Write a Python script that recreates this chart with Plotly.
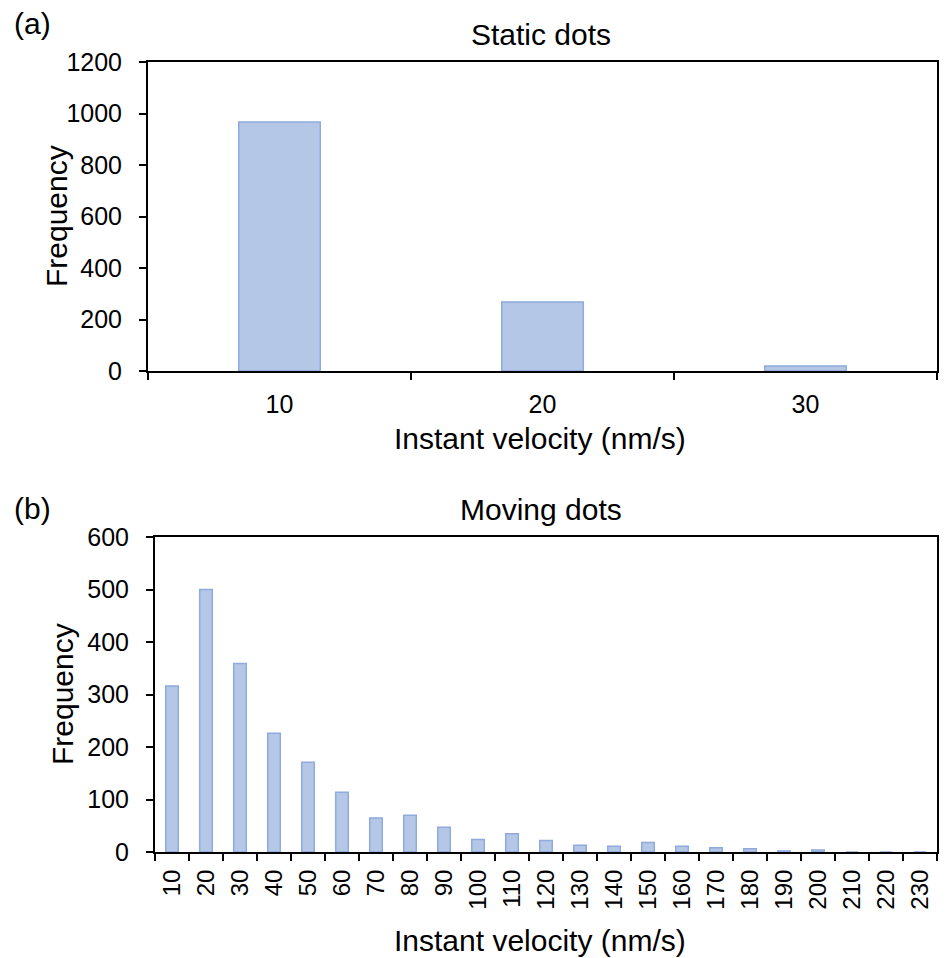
import plotly.graph_objects as go

# ---- data ----
static_bins = ["10", "20", "30"]
static_freq = [967, 268, 19]

moving_bins = ["10", "20", "30", "40", "50", "60", "70", "80", "90", "100",
               "110", "120", "130", "140", "150", "160", "170", "180", "190",
               "200", "210", "220", "230"]
moving_freq = [316, 500, 359, 226, 171, 114, 65, 70, 47, 24,
               35, 22, 13, 11, 18, 11, 8, 6, 2,
               4, 0, 0, 0]

# page body has an 8px default margin; size the figure to compensate
OFF = 8
W, H = 947 - OFF, 958 - OFF
FONT = "Liberation Sans, Arial, sans-serif"
FILL = "#B4C7E7"
EDGE = "#8FAADC"
RIGHT = 937


def px(x):
    return (x - OFF) / W


def py(y):
    return 1 - (y - OFF) / H


fig = go.Figure()
fig.add_trace(go.Bar(x=static_bins, y=static_freq, xaxis="x", yaxis="y",
                     width=0.31,
                     marker=dict(color=FILL, line=dict(color=EDGE, width=1.5)),
                     showlegend=False))
fig.add_trace(go.Bar(x=moving_bins, y=moving_freq, xaxis="x2", yaxis="y2",
                     width=0.37,
                     marker=dict(color=FILL, line=dict(color=EDGE, width=1.5)),
                     showlegend=False))

axis_common = dict(showline=True, linecolor="black", linewidth=2, mirror=True,
                   ticks="outside", ticklen=7, tickwidth=2, tickcolor="black",
                   showgrid=False, zeroline=False, automargin=False,
                   tickfont=dict(family=FONT, size=25, color="black"))

fig.update_layout(
    width=W, height=H,
    margin=dict(l=0, r=0, t=0, b=0),
    paper_bgcolor="white", plot_bgcolor="white",
    xaxis=dict(domain=[px(148), px(RIGHT)], anchor="y", type="category",
               tickson="boundaries", ticklabelstandoff=10, **axis_common),
    yaxis=dict(domain=[py(371), py(62)], anchor="x", range=[0, 1200],
               dtick=200, ticklabelstandoff=12, **axis_common),
    xaxis2=dict(domain=[px(155), px(RIGHT)], anchor="y2", type="category",
                tickson="boundaries", tickangle=-90, ticklabelstandoff=6,
                **axis_common),
    yaxis2=dict(domain=[py(852), py(537)], anchor="x2", range=[0, 600],
                dtick=100, ticklabelstandoff=12, **axis_common),
)
fig.layout.xaxis2.tickfont.size = 24


def ann(text, x, y, size=30, xanchor="center", angle=0):
    fig.add_annotation(text=text, x=px(x), y=py(y), xref="paper", yref="paper",
                       showarrow=False, xanchor=xanchor, yanchor="middle",
                       textangle=angle,
                       font=dict(family=FONT, size=size, color="black"))


ann("(a)", 12, 23, xanchor="left")
ann("Static dots", 541, 34)
ann("Frequency", 56, 216, angle=-90)
ann("Instant velocity (nm/s)", 540, 438)

ann("(b)", 12, 508, xanchor="left")
ann("Moving dots", 541, 509)
ann("Frequency", 62, 694, angle=-90)
ann("Instant velocity (nm/s)", 540, 940)

fig.write_html("out.html")
